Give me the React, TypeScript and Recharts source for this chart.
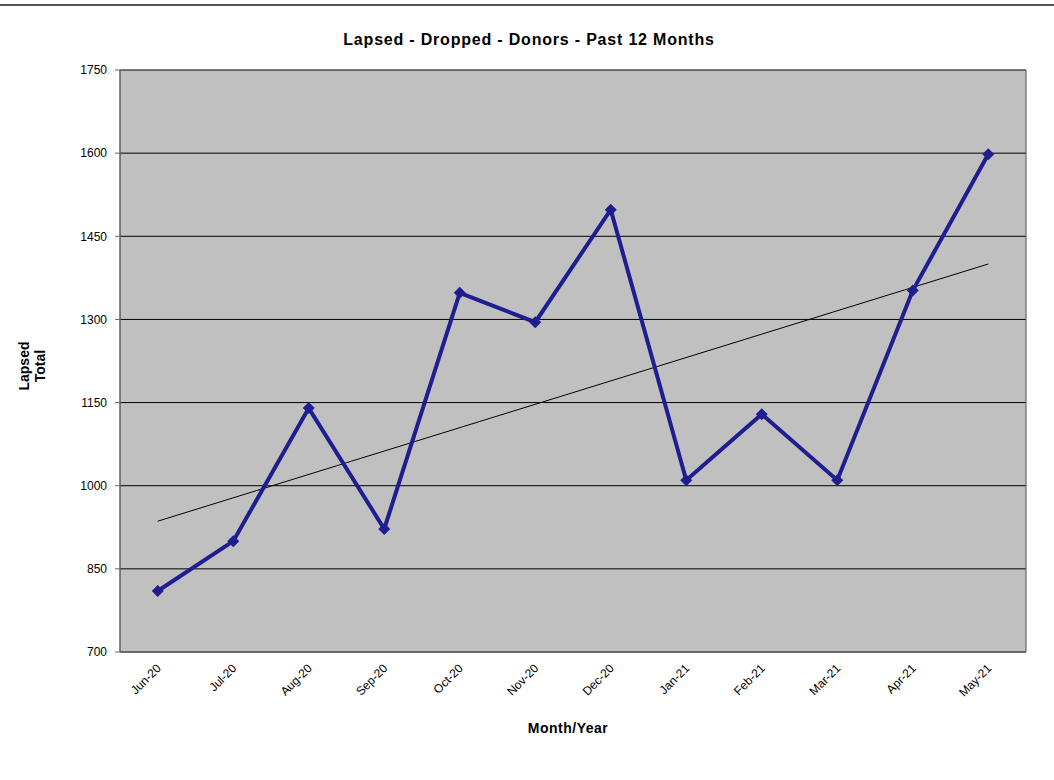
import { LineChart, Line, XAxis, YAxis, CartesianGrid } from "recharts";

const months = [
  "Jun-20", "Jul-20", "Aug-20", "Sep-20", "Oct-20", "Nov-20",
  "Dec-20", "Jan-21", "Feb-21", "Mar-21", "Apr-21", "May-21",
];
const lapsed = [810, 900, 1140, 922, 1348, 1295, 1498, 1010, 1129, 1010, 1352, 1598];
// linear trend, read at first and last month
const trendStart = 936;
const trendEnd = 1400;
const yTicks = [700, 850, 1000, 1150, 1300, 1450, 1600, 1750];

const data = months.map((month, i) => ({
  idx: i,
  month,
  lapsed: lapsed[i],
  trend: i === 0 ? trendStart : i === months.length - 1 ? trendEnd : null,
}));

const boundaryTicks = [...months.map((_, i) => i - 0.5), months.length - 0.5];
const labelTicks = months.map((_, i) => i);

const FONT = "'Liberation Sans', Arial, sans-serif";
const NAVY = "#1e1e90";

function Diamond(props: any) {
  const { cx, cy } = props;
  if (cx == null || cy == null) return null;
  const r = 6;
  return (
    <path
      d={`M${cx},${cy - r}L${cx + r},${cy}L${cx},${cy + r}L${cx - r},${cy}Z`}
      fill={NAVY}
    />
  );
}

function MonthTick(props: any) {
  const { x, y, payload } = props;
  const ax = x + 4;
  const ay = y + 3;
  return (
    <text
      x={ax}
      y={ay}
      transform={`rotate(-45 ${ax} ${ay})`}
      textAnchor="end"
      fontSize={12}
      fontFamily={FONT}
      fill="#000"
    >
      {months[payload.value]}
    </text>
  );
}

export default function App() {
  return (
    <div
      style={{
        position: "absolute",
        left: 0,
        top: 0,
        width: 1054,
        height: 780,
        background: "#fff",
        fontFamily: FONT,
      }}
    >
      <div style={{ position: "absolute", left: 0, top: 4, width: 1054, height: 2, background: "#555" }} />
      <div
        style={{
          position: "absolute",
          left: 0,
          top: 31,
          width: 1054,
          textAlign: "center",
          fontSize: 16,
          fontWeight: "bold",
          letterSpacing: 0.8,
          paddingLeft: 2,
        }}
      >
        Lapsed - Dropped - Donors - Past 12 Months
      </div>
      <div
        style={{
          position: "absolute",
          left: 32 - 60,
          top: 366 - 16,
          width: 120,
          height: 32,
          transform: "rotate(-90deg)",
          textAlign: "center",
          fontSize: 14,
          fontWeight: "bold",
          lineHeight: "16px",
        }}
      >
        Lapsed
        <br />
        Total
      </div>
      <div
        style={{
          position: "absolute",
          left: 468,
          top: 720,
          width: 200,
          textAlign: "center",
          fontSize: 14,
          fontWeight: "bold",
          letterSpacing: 0.5,
        }}
      >
        Month/Year
      </div>
      <div style={{ position: "absolute", left: 0, top: 0 }}>
        <LineChart
          width={1054}
          height={780}
          data={data}
          margin={{ top: 70, right: 28, bottom: 62, left: 0 }}
        >
          <CartesianGrid
            horizontal
            vertical={false}
            fill="#c0c0c0"
            stroke="#000"
            strokeWidth={1}
          />
          <CartesianGrid
            horizontal={false}
            vertical
            stroke="#555"
            strokeWidth={1}
          />
          <XAxis
            xAxisId={0}
            dataKey="idx"
            type="number"
            domain={[-0.5, months.length - 0.5]}
            ticks={boundaryTicks}
            tick={false}
            tickSize={5}
            height={6}
            stroke="#666"
            allowDecimals
          />
          <XAxis
            xAxisId="labels"
            dataKey="idx"
            type="number"
            domain={[-0.5, months.length - 0.5]}
            ticks={labelTicks}
            tick={<MonthTick />}
            tickLine={false}
            axisLine={false}
            height={60}
            interval={0}
          />
          <YAxis
            type="number"
            domain={[700, 1750]}
            ticks={yTicks}
            interval={0}
            width={120}
            tickSize={5}
            tickMargin={8}
            stroke="#666"
            tick={{ fill: "#000", fontSize: 12, fontFamily: FONT }}
          />
          <Line
            xAxisId={0}
            type="linear"
            dataKey="trend"
            stroke="#000"
            strokeWidth={1}
            dot={false}
            activeDot={false}
            connectNulls
            isAnimationActive={false}
          />
          <Line
            xAxisId={0}
            type="linear"
            dataKey="lapsed"
            stroke={NAVY}
            strokeWidth={4}
            dot={<Diamond />}
            activeDot={false}
            isAnimationActive={false}
          />
        </LineChart>
      </div>
    </div>
  );
}
